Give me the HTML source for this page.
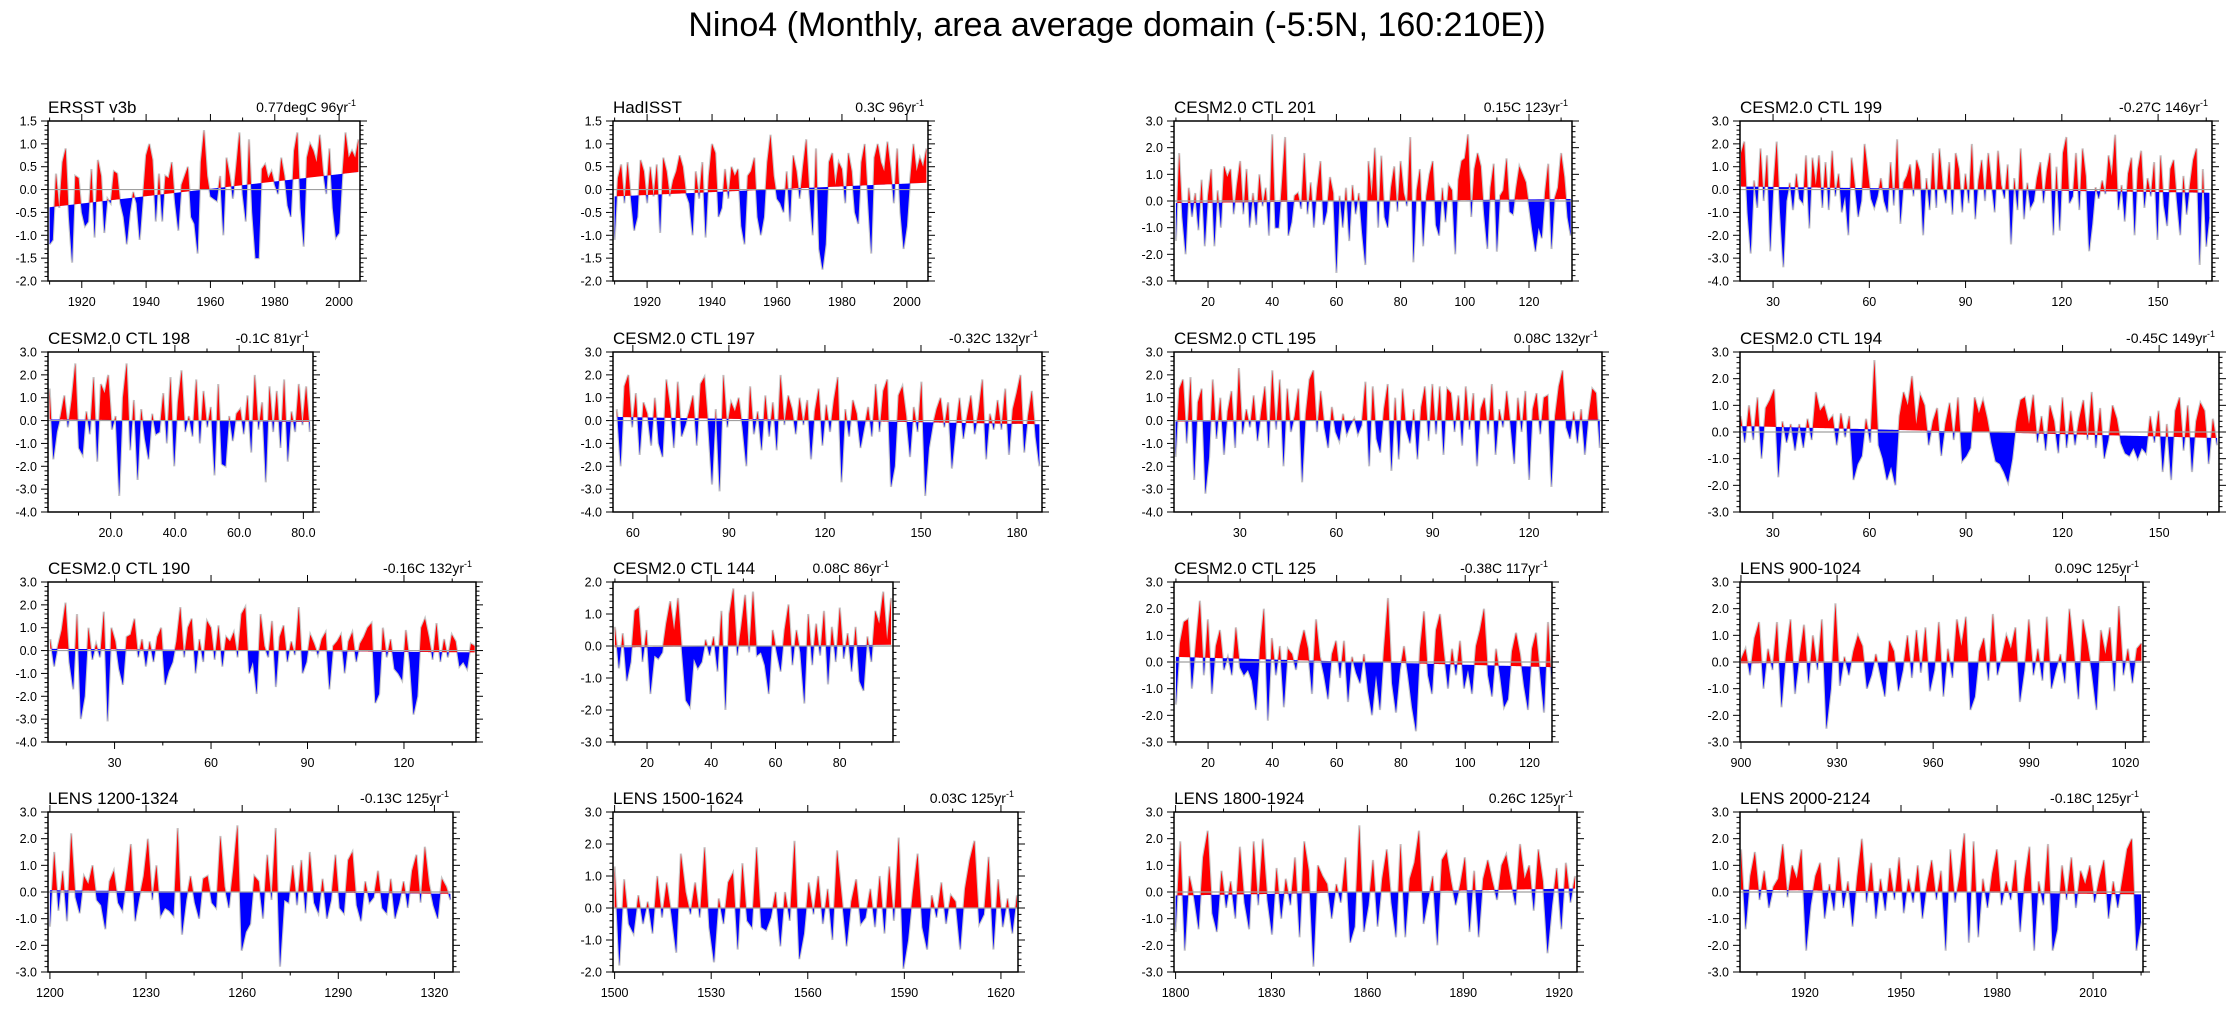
<!DOCTYPE html>
<html><head><meta charset="utf-8"><title>Nino4</title>
<style>
html,body{margin:0;padding:0;background:#fff;}
svg{display:block;font-family:"Liberation Sans",Arial,sans-serif;}
</style></head>
<body>
<svg id="chart" width="2235" height="1009" viewBox="0 0 2235 1009" xmlns="http://www.w3.org/2000/svg">
<rect x="0" y="0" width="2235" height="1009" fill="#fff"/>
<text x="1117" y="36" font-size="34" text-anchor="middle" fill="#000">Nino4 (Monthly, area average domain (-5:5N, 160:210E))</text>
</svg>
<script>
// ---- data (annual-resolution estimates) ----
const panelTitles = ["ERSST v3b","HadISST","CESM2.0 CTL 201","CESM2.0 CTL 199","CESM2.0 CTL 198","CESM2.0 CTL 197","CESM2.0 CTL 195","CESM2.0 CTL 194","CESM2.0 CTL 190","CESM2.0 CTL 144","CESM2.0 CTL 125","LENS 900-1024","LENS 1200-1324","LENS 1500-1624","LENS 1800-1924","LENS 2000-2124"];
const trendTotals = [0.77,0.3,0.15,-0.27,-0.1,-0.32,0.08,-0.45,-0.16,0.08,-0.38,0.09,-0.13,0.03,0.26,-0.18];
const trendLabels = ["0.77degC 96yr","0.3C 96yr","0.15C 123yr","-0.27C 146yr","-0.1C 81yr","-0.32C 132yr","0.08C 132yr","-0.45C 149yr","-0.16C 132yr","0.08C 86yr","-0.38C 117yr","0.09C 125yr","-0.13C 125yr","0.03C 125yr","0.26C 125yr","-0.18C 125yr"];
const dataStarts = [1910,1910,10,20,1,55,10,20,10,10,10,900,1200,1500,1800,1900];
const dataEnds   = [2006,2006,133,166,82,187,142,168,142,96,127,1025,1325,1625,1925,2025];
const yMins = [-2,-2,-3,-4,-4,-4,-4,-3,-4,-3,-3,-3,-3,-2,-3,-3];
const yMaxs = [1.5,1.5,3,3,3,3,3,3,3,2,3,3,3,3,3,3];
const yTickSteps = [0.5,0.5,1,1,1,1,1,1,1,1,1,1,1,1,1,1];
const xTickSteps = [20,20,20,30,20,30,30,30,30,20,20,30,30,30,30,30];

const ersstValues = [-1.2,-1.1,0.35,-0.4,0.6,0.9,-0.6,-1.6,0.3,0.25,-0.5,-0.8,-0.7,0.45,-1.05,0.65,0.3,-0.95,-0.2,-0.3,0.4,0.35,-0.3,-0.6,-1.2,-0.5,-0.05,-0.3,-1.1,-0.2,0.75,1.0,0.65,-0.7,0.35,-0.7,0.3,0.25,0.6,-0.3,-0.9,0.1,0.3,0.5,-0.6,-0.75,-1.4,0.6,1.3,0.3,-0.15,-0.2,-0.25,0.3,-1.0,0.7,0.3,-0.2,0.5,1.25,-0.1,-0.7,1.1,-0.5,-1.5,-1.5,0.45,0.55,0.25,0.4,0.1,-0.1,0.7,0.3,-0.35,-0.6,0.85,1.25,-0.4,-1.25,0.7,1.0,0.85,0.6,1.2,0.4,-0.1,0.9,-0.4,-1.05,-0.95,0.3,1.25,0.7,0.85,0.7,1.1];
const hadisstValues = [-1.1,0.25,0.55,-0.3,0.6,-0.2,-0.9,-0.6,0.65,0.4,-0.3,0.5,-0.15,0.55,-0.95,0.7,0.4,-0.15,0.2,0.4,0.75,0.5,-0.1,-0.3,-1.0,0.4,-0.2,0.6,-1.05,0.3,1.0,0.8,-0.6,-0.4,0.45,-0.2,0.5,0.3,0.45,-0.8,-1.2,0.3,0.4,0.7,-0.6,-1.0,-0.6,0.6,1.2,0.3,-0.2,-0.3,-0.5,0.4,-0.7,0.75,0.4,-0.2,0.5,1.1,-0.1,-1.0,0.9,-1.3,-1.75,-1.2,0.6,0.8,0.1,0.6,0.45,-0.3,0.8,0.4,-0.5,-0.75,0.6,1.0,-0.2,-1.4,0.7,1.0,0.6,0.4,1.05,0.45,-0.3,0.9,-0.5,-1.3,-0.8,0.2,1.0,0.4,0.7,0.5,0.9];
const ctl201Values = [-1.5,1.8,-0.6,-2.0,0.5,-0.6,0.3,-1.1,0.8,-1.7,0.2,1.2,-1.7,0.4,-1.0,1.3,0.9,1.2,-0.5,0.6,1.5,-0.5,1.2,-1.0,0.3,-0.9,1.0,-0.2,0.5,-1.3,2.5,-1.0,-1.0,0.6,2.4,-1.3,-0.8,0.2,0.3,-0.3,1.8,-0.5,0.7,-1.0,0.5,1.5,-0.9,-0.4,0.9,0.3,-2.7,0.2,-1.0,0.5,-1.5,0.6,-0.5,0.3,-1.2,-2.4,1.5,0.2,2.0,-1.0,1.7,-0.6,-1.0,0.5,1.3,-0.4,1.5,0.3,-0.2,2.4,-2.3,0.4,1.2,-1.7,0.2,1.0,1.5,-0.9,-1.3,0.5,-0.8,0.6,0.4,-2.0,0.8,1.5,1.6,2.5,-0.6,1.2,1.8,1.3,-0.5,-1.8,0.5,1.4,-1.9,0.2,0.4,1.6,-0.4,-0.5,0.5,1.3,1.0,0.7,-0.2,-1.1,-1.9,-1.0,-1.4,0.3,1.4,-1.8,0.1,0.5,1.8,0.9,-0.6,-1.3];
const ctl199Values = [1.6,2.1,-1.0,-2.8,0.4,-0.8,1.8,-0.5,1.5,-2.7,0.2,2.1,-1.0,-3.4,-0.5,0.3,-0.9,0.7,-0.4,-0.6,1.5,-1.7,1.4,0.2,1.5,-0.8,1.2,-0.9,1.7,-0.3,0.7,-1.0,-0.3,-2.0,1.4,0.2,-1.2,-0.5,2.0,0.8,-0.4,-0.8,-0.3,0.5,-0.5,-1.0,1.2,-0.7,2.2,-1.5,0.3,0.6,1.1,-0.3,1.3,0.8,-2.0,0.5,-0.9,1.6,-0.8,1.8,0.2,-0.6,1.2,-1.1,1.6,0.9,-1.0,0.7,-0.6,2.0,-1.3,0.4,1.3,-0.5,1.6,0.3,-1.0,1.7,0.2,-0.4,1.1,-2.4,0.5,-0.9,1.8,-1.3,0.3,-0.8,-0.5,0.5,1.2,-0.6,0.8,1.6,-2.0,1.0,-1.8,1.6,2.3,-0.6,-0.3,1.6,-0.9,1.8,0.6,-2.7,-1.5,0.1,-0.4,0.4,-0.2,1.5,0.6,2.4,-0.9,0.2,-1.4,0.7,1.4,-2.0,0.9,1.7,-0.8,0.5,-0.3,1.2,-2.2,1.5,-0.7,-1.6,0.9,1.3,-0.5,-2.0,0.6,-1.1,0.2,1.3,1.8,-3.3,0.9,-2.5,-1.2];
const ctl198Values = [1.4,-1.7,-0.5,0.2,1.1,-0.3,0.9,2.5,-1.2,-1.5,0.4,-0.6,1.9,-1.8,1.6,1.2,2.0,-0.4,0.2,-3.3,1.0,2.5,-1.3,0.9,-2.6,0.5,-0.8,-1.7,0.3,-0.6,-0.5,1.2,-1.0,1.9,-2.0,0.8,2.2,-0.5,0.2,-0.7,1.8,-1.0,1.3,-0.3,0.6,-2.4,1.6,-1.9,-2.0,0.2,-0.9,0.3,0.5,-0.6,1.1,-1.4,2.0,-0.4,0.8,-2.7,1.5,-0.5,1.3,-1.2,1.8,-1.8,0.4,-0.5,1.6,-0.2,1.5,-0.5];
const ctl197Values = [0.5,-2.0,1.5,2.0,-0.3,1.2,-1.5,0.8,0.3,-1.1,1.0,-1.0,-1.6,1.8,0.6,-1.2,1.7,-0.7,-0.2,0.4,1.1,-1.1,1.6,1.9,-0.2,-2.8,0.5,-3.1,2.0,-0.3,0.8,0.4,1.0,-0.3,-2.0,1.5,-0.6,0.4,-1.3,1.1,-0.7,0.8,-1.3,2.0,-0.2,1.1,0.5,-0.6,1.0,-0.2,0.9,-1.7,0.4,1.4,-1.1,0.7,-0.5,0.9,1.9,-2.7,0.5,-0.7,0.9,0.3,-1.2,-0.3,0.6,-0.7,1.6,-0.5,1.3,1.8,-2.9,-2.0,1.1,1.5,0.2,-1.6,0.6,-0.5,1.7,-3.3,-1.2,-0.2,0.5,1.0,-0.3,0.8,-2.1,-0.4,1.0,-0.8,0.2,1.1,-0.6,0.4,1.8,-1.7,0.3,-0.4,0.9,-0.4,1.4,-1.5,0.5,1.2,2.0,-1.4,0.2,1.3,-0.7,-2.0];
const ctl195Values = [-1.6,1.4,1.8,-1.0,1.9,-2.6,0.8,1.4,-3.2,-1.6,1.8,-0.8,1.0,-1.5,0.4,1.3,-1.2,2.3,-0.6,0.5,-0.3,1.1,-0.9,0.4,1.5,-1.2,2.2,-0.4,1.8,-2.0,1.4,-0.5,0.2,1.4,-2.7,0.3,1.8,2.2,-0.5,1.3,-0.3,-1.2,0.6,-0.5,-0.9,0.3,-0.6,-0.2,0.1,-0.6,-0.2,1.7,-2.0,1.5,-0.8,-1.4,0.5,1.6,-2.2,1.0,-1.7,1.4,-0.4,-1.0,0.5,-1.7,0.6,1.5,-0.9,1.6,-0.6,1.5,-1.5,1.4,1.2,-0.5,1.1,-1.1,1.5,-0.4,1.2,-2.0,0.5,1.0,-0.6,1.6,-1.5,0.5,-0.3,1.3,-0.2,-1.9,1.0,-0.5,1.3,-2.6,0.5,1.2,-0.6,1.0,1.1,-2.9,0.2,1.5,2.2,-0.3,-0.8,0.4,-1.0,0.5,-1.5,0.2,1.4,1.2,-1.2];
const ctl194Values = [0.6,-0.4,1.0,-0.3,1.3,-1.0,0.9,1.2,1.6,-1.7,0.4,-0.4,0.3,-0.7,0.3,-0.6,0.5,-0.3,1.5,0.8,1.0,0.4,0.6,-0.5,0.7,-0.2,0.6,-1.8,-1.2,-0.9,0.5,-0.4,2.7,-0.5,-1.0,-1.8,-1.3,-2.0,0.6,1.5,1.0,2.1,0.3,1.4,1.0,-0.5,0.4,0.9,-0.9,0.3,1.1,-0.3,1.3,-1.1,-0.9,-0.6,1.3,0.7,1.2,0.5,-0.4,-1.1,-1.2,-1.5,-1.9,-1.0,0.4,1.2,1.3,0.3,1.4,-0.4,0.6,-0.7,1.0,0.4,-0.8,1.3,-0.6,0.8,-0.5,0.5,1.2,-0.3,1.5,-0.6,0.9,-1.0,-0.3,1.0,0.5,-0.4,-0.8,-0.9,-0.6,-1.0,-0.6,-0.8,0.6,-0.4,0.8,-1.5,0.3,-1.8,0.8,1.3,-0.7,1.0,-1.5,0.4,1.1,0.8,-1.2,0.5,-0.5];
const ctl190Values = [0.5,-0.7,0.2,0.9,2.1,-0.5,-1.7,1.6,-3.0,-2.0,1.0,-0.4,0.3,-0.3,1.7,-3.1,1.0,0.4,-0.8,-1.5,0.6,0.7,1.4,-0.3,0.5,-0.7,0.4,-0.5,0.6,1.0,-1.5,-0.9,-0.5,0.4,1.9,-0.3,1.0,1.4,-1.0,0.5,-0.5,1.3,1.0,-0.4,1.1,-0.7,0.6,0.4,0.8,-0.3,1.6,1.9,-1.0,-0.5,-1.9,1.6,0.2,-0.3,1.3,-1.6,0.6,1.1,-0.5,0.4,-0.2,1.9,-1.0,-0.5,0.7,0.3,-0.2,0.5,0.8,-1.7,0.2,0.4,0.7,-1.0,0.4,0.8,-0.5,0.3,0.6,1.0,1.2,-2.3,-1.9,1.0,-0.3,0.5,-0.8,-1.0,-1.3,0.9,-0.5,-2.8,-2.0,1.0,1.4,0.6,-0.4,1.2,-0.5,0.5,-0.3,0.7,0.4,-0.7,-0.5,-0.8,0.3,0.2];
const ctl144Values = [0.6,-0.7,0.4,-1.1,-0.5,1.1,1.2,-0.5,0.5,-1.5,-0.3,-0.4,-0.2,0.7,1.4,0.5,1.5,-0.2,-1.7,-1.9,-0.4,-0.7,-0.5,0.2,-0.3,0.3,-0.8,1.1,-2.0,1.0,1.8,-0.3,0.6,1.6,-0.2,1.7,-0.3,-0.2,-0.6,-1.5,0.5,-0.2,-0.8,0.5,1.3,-0.6,0.5,-0.2,-1.8,1.0,-0.6,0.7,-0.3,1.1,-1.2,0.6,-0.5,1.2,-0.4,0.4,-0.8,0.6,-1.1,-1.4,0.3,-0.5,1.1,0.7,1.7,0.2,1.5];
const ctl125Values = [-1.6,0.7,1.5,1.6,-1.0,0.7,2.3,-0.5,1.6,-1.2,0.6,1.2,-0.3,0.2,-0.5,1.3,-0.2,-0.5,-0.3,-0.7,-1.8,0.5,2.0,-2.2,0.9,-0.5,0.6,-1.7,0.5,0.3,-0.3,0.6,1.2,0.5,-1.2,1.6,0.2,-0.5,-1.4,0.3,0.8,-0.6,0.8,-1.5,0.2,-0.4,-0.8,0.3,-1.1,-2.0,-0.5,-1.8,0.5,2.4,-0.8,-1.9,-0.3,0.6,-0.5,-1.7,-2.6,0.5,1.9,-0.5,-1.2,1.2,1.8,0.3,-1.0,0.5,-0.5,0.8,-1.0,-0.3,-1.2,0.6,1.2,2.0,-0.5,-1.3,0.5,-0.5,-1.7,-1.4,0.4,1.1,0.3,-0.9,-1.8,0.5,1.1,-0.4,-1.9,1.5,-1.0];
const lens900Values = [0.1,0.5,-0.5,0.9,1.5,-1.0,0.5,-0.3,1.5,-1.7,0.3,1.6,-1.2,0.2,1.4,-0.8,1.0,-0.3,1.6,-2.5,-1.0,2.2,-0.9,0.2,-0.5,0.4,1.0,0.6,-1.0,-0.5,0.3,-0.5,-1.3,0.8,0.4,-1.1,-0.3,1.0,-0.6,1.2,-0.4,1.3,-1.1,-0.3,1.5,-1.3,0.5,-0.6,1.6,0.6,1.7,-1.8,-1.3,0.4,0.9,-0.7,1.8,-0.5,0.2,1.0,0.5,1.3,-1.5,-0.3,1.6,-0.5,0.5,-0.7,1.7,-1.0,-0.3,0.3,-0.8,2.0,0.4,-1.4,1.6,0.7,-0.4,-1.8,1.2,0.3,1.3,-1.1,2.1,-0.5,0.5,-0.8,0.5,0.7];
const lens1200Values = [-1.3,1.5,-0.7,0.8,-1.1,2.2,-0.2,-0.8,0.6,0.3,1.0,-0.3,-0.5,-1.4,0.4,0.8,-0.4,-0.7,0.5,1.8,-1.1,-0.2,0.6,2.0,-0.3,1.0,-0.9,-0.6,-0.7,-0.9,2.4,-1.6,-0.3,0.6,-0.4,-1.0,0.5,0.6,-0.4,-0.6,2.1,0.2,-0.6,0.8,2.5,-2.2,-1.5,-1.2,0.6,0.4,-1.0,1.4,-0.3,2.4,-2.8,-0.3,-0.4,1.0,-0.5,1.2,-0.8,1.5,-0.4,-0.8,0.5,-1.0,-0.3,1.4,-0.6,-0.8,1.2,1.5,-0.5,-1.1,0.4,-0.4,-0.2,0.8,-0.6,-0.8,0.5,-1.0,-0.4,0.4,-0.6,0.8,1.4,-0.4,1.7,0.3,-0.5,-1.0,0.5,0.2,-0.3];
const lens1500Values = [1.3,-1.8,0.9,-0.5,-0.8,0.4,-0.5,0.2,-0.8,1.0,-0.3,0.8,-0.2,-1.4,1.7,0.5,-0.2,0.8,-0.3,1.9,-0.6,-1.7,0.3,-0.5,0.8,1.1,-1.3,1.4,-0.4,-0.6,1.9,-0.6,-0.7,-0.3,0.5,-1.2,0.5,-0.4,2.1,-1.6,-0.8,0.8,-0.2,1.0,-0.5,0.6,-1.0,1.8,0.3,-1.2,0.2,0.9,-0.5,-0.3,0.6,-0.6,1.0,-0.8,1.3,-0.4,2.2,-1.9,-1.0,0.5,1.7,-0.6,-1.3,0.4,-0.3,0.8,-0.5,0.4,0.2,-1.3,0.6,1.5,2.1,-0.5,-0.2,1.6,-1.3,0.9,-0.6,0.3,-0.8,0.4];
const lens1800Values = [-1.5,1.9,-2.2,0.6,-0.2,-1.4,1.3,2.3,-0.8,-1.5,0.8,-0.6,0.4,-1.0,1.7,-0.4,-1.4,1.9,-0.5,2.0,-0.3,-1.6,0.9,-1.0,0.5,-0.5,1.3,-1.7,1.9,0.8,-2.8,1.0,0.6,0.3,-1.0,0.3,-0.4,1.3,-1.9,-1.3,2.5,-1.5,-0.5,1.2,-1.3,0.5,1.6,-0.4,-1.7,1.8,-1.7,0.5,1.1,2.3,-1.2,-0.3,0.6,-2.0,1.2,1.5,0.4,-0.5,0.3,1.3,-1.5,0.8,-1.7,0.5,1.2,0.4,-0.3,1.0,1.4,0.4,-0.5,1.8,0.5,1.0,-0.7,1.6,0.4,-2.3,-0.5,0.9,-1.4,1.1,-0.4,0.6];
const lens2000Values = [1.6,-1.4,0.6,1.5,-0.3,0.8,-0.6,0.2,0.5,1.8,-0.2,1.0,0.5,1.6,-2.2,-0.5,0.6,1.1,-1.0,0.3,-0.7,1.3,-0.6,0.4,-1.3,0.6,2.0,-0.4,1.1,-1.0,0.5,-0.7,0.9,-0.3,1.3,-0.8,0.5,-0.4,1.0,-1.0,0.3,1.2,-0.3,0.8,-2.2,1.6,-0.4,0.6,2.2,-1.9,1.9,-1.7,0.5,-0.6,0.7,1.6,-0.5,0.4,-0.3,1.2,-1.5,0.5,1.7,-2.2,0.4,-0.5,1.8,-2.2,-1.4,1.0,-0.3,1.3,-0.6,0.8,0.3,1.0,-0.4,0.5,1.2,-1.0,0.4,-0.6,0.5,1.6,2.0,-2.2,-1.1];

const seriesValues = [ersstValues,hadisstValues,ctl201Values,ctl199Values,ctl198Values,ctl197Values,ctl195Values,ctl194Values,ctl190Values,ctl144Values,ctl125Values,lens900Values,lens1200Values,lens1500Values,lens1800Values,lens2000Values];

// ---- layout (pixels / axis extents) ----
const layout = [
 {L:48,R:360,T:121,xmin:1909.5,xmax:2006.5},
 {L:613,R:928,T:121,xmin:1909.5,xmax:2006.5},
 {L:1174,R:1572,T:121,xmin:9.4,xmax:133.4},
 {L:1740,R:2212,T:121,xmin:19.7,xmax:166.8},
 {L:48,R:313,T:352,xmin:0.5,xmax:83,fmt:1},
 {L:613,R:1042,T:352,xmin:53.8,xmax:187.8},
 {L:1174,R:1602,T:352,xmin:9.5,xmax:142.7},
 {L:1740,R:2219,T:352,xmin:19.8,xmax:168.6},
 {L:48,R:476,T:582,xmin:9.3,xmax:142.4},
 {L:613,R:893,T:582,xmin:9.4,xmax:96.6},
 {L:1174,R:1552,T:582,xmin:9.4,xmax:127},
 {L:1740,R:2143,T:582,xmin:899.7,xmax:1025.5},
 {L:48,R:453,T:812,xmin:1199.4,xmax:1325.8},
 {L:613,R:1018,T:812,xmin:1499.5,xmax:1625.3},
 {L:1174,R:1577,T:812,xmin:1799.5,xmax:1925.6},
 {L:1740,R:2143,T:812,xmin:1899.7,xmax:2025.6}
];
const H = 160;
const NS = "http://www.w3.org/2000/svg";
const svg = document.getElementById('chart');

function mk(tag, attrs, parent){
  const e = document.createElementNS(NS, tag);
  for (const k in attrs) e.setAttribute(k, attrs[k]);
  (parent||svg).appendChild(e);
  return e;
}
function kebab(s){return s.toLowerCase().replace(/[^a-z0-9]+/g,'-').replace(/-+$/,'');}

layout.forEach((p, idx) => {
  const vals = seriesValues[idx];
  const ymin = yMins[idx], ymax = yMaxs[idx];
  const sx = v => p.L + (v - p.xmin) / (p.xmax - p.xmin) * (p.R - p.L);
  const sy = v => p.T + (ymax - v) / (ymax - ymin) * H;
  const B = p.T + H;
  const name = kebab(panelTitles[idx]);

  const g = mk('g', {});
  
  

  const cp = mk('clipPath', {id:'clip'+idx}, g);
  mk('rect', {x:p.L, y:p.T, width:p.R-p.L, height:H}, cp);

  const ds = dataStarts[idx], de = dataEnds[idx], Tt = trendTotals[idx];
  const n = vals.length;
  const trend = x => -Tt/2 + Tt * (x - ds) / (de - ds);
  const pts = [];
  for (let i = 0; i < n; i++){
    const x = ds + i * (de - ds) / (n - 1);
    pts.push([x, vals[i]]);
    if (i < n - 1){
      const x2 = ds + (i + 1) * (de - ds) / (n - 1);
      const d0 = vals[i] - trend(x), d1 = vals[i+1] - trend(x2);
      if (d0 * d1 < 0){
        const f = d0 / (d0 - d1);
        const xc = x + f * (x2 - x);
        pts.push([xc, trend(xc)]);
      }
    }
  }
  const clipG = mk('g', {'clip-path':'url(#clip'+idx+')'}, g);

  const gray = mk('polyline', {points: pts.map(q => sx(q[0]).toFixed(1)+','+sy(q[1]).toFixed(1)).join(' '), fill:'none', stroke:'#c8c8c8', 'stroke-width':2.2}, clipG);
  
  

  const up = pts.map(q => [q[0], Math.max(q[1], trend(q[0]))]);
  const dn = pts.map(q => [q[0], Math.min(q[1], trend(q[0]))]);
  const closeStr = ' ' + sx(de).toFixed(1)+','+sy(trend(de)).toFixed(1) + ' ' + sx(ds).toFixed(1)+','+sy(trend(ds)).toFixed(1);
  const red = mk('polygon', {points: up.map(q => sx(q[0]).toFixed(1)+','+sy(q[1]).toFixed(1)).join(' ') + closeStr, fill:'#ff0000', stroke:'none'}, clipG);
  
  
  const blue = mk('polygon', {points: dn.map(q => sx(q[0]).toFixed(1)+','+sy(q[1]).toFixed(1)).join(' ') + closeStr, fill:'#0000ff', stroke:'none'}, clipG);
  
  

  const zl = mk('line', {x1:p.L, x2:p.R, y1:sy(0), y2:sy(0), stroke:'#a0a0a0', 'stroke-width':1.2}, g);
  
  

  const fr = mk('rect', {x:p.L, y:p.T, width:p.R-p.L, height:H, fill:'none', stroke:'#000', 'stroke-width':1.5}, g);
  
  

  const ys = yTickSteps[idx];
  const ym = ys / 5;
  for (let k = 0; ; k++){
    const v = ymin + k * ym;
    if (v > ymax + 1e-6) break;
    const major = Math.abs(Math.round((v - ymin)/ys) * ys - (v - ymin)) < 1e-6;
    const len = major ? 7 : 3.5;
    const yy = sy(v);
    mk('line', {x1:p.L - len, x2:p.L, y1:yy, y2:yy, stroke:'#000', 'stroke-width':1}, g);
    mk('line', {x1:p.R, x2:p.R + len, y1:yy, y2:yy, stroke:'#000', 'stroke-width':1}, g);
    if (major){
      const t = mk('text', {x:p.L - 11, y:yy + 4.5, 'font-size':12.5, 'text-anchor':'end', fill:'#000'}, g);
      t.textContent = v.toFixed(1);
      
      
    }
  }
  const xs = xTickSteps[idx];
  const xm = xs / 2;
  const first = Math.ceil(p.xmin / xm) * xm;
  for (let v = first; v <= p.xmax + 1e-6; v += xm){
    const major = Math.abs(v / xs - Math.round(v / xs)) < 1e-6;
    const len = major ? 7 : 3.5;
    const xx = sx(v);
    mk('line', {x1:xx, x2:xx, y1:B, y2:B + len, stroke:'#000', 'stroke-width':1}, g);
    mk('line', {x1:xx, x2:xx, y1:p.T - len, y2:p.T, stroke:'#000', 'stroke-width':1}, g);
    if (major){
      const t = mk('text', {x:xx, y:B + 25, 'font-size':12.5, 'text-anchor':'middle', fill:'#000'}, g);
      t.textContent = p.fmt ? v.toFixed(1) : String(Math.round(v));
      
      
    }
  }
  const tt = mk('text', {x:p.L, y:p.T - 8, 'font-size':17, fill:'#000'}, g);
  tt.textContent = panelTitles[idx];
  
  

  const rl = mk('text', {x:p.R - 4, y:p.T - 9, 'font-size':14, 'text-anchor':'end', fill:'#000'}, g);
  
  
  const s1 = mk('tspan', {}, rl); s1.textContent = trendLabels[idx];
  const s2 = mk('tspan', {dy:-6, 'font-size':9}, rl); s2.textContent = '-1';
});
</script>
</body></html>
